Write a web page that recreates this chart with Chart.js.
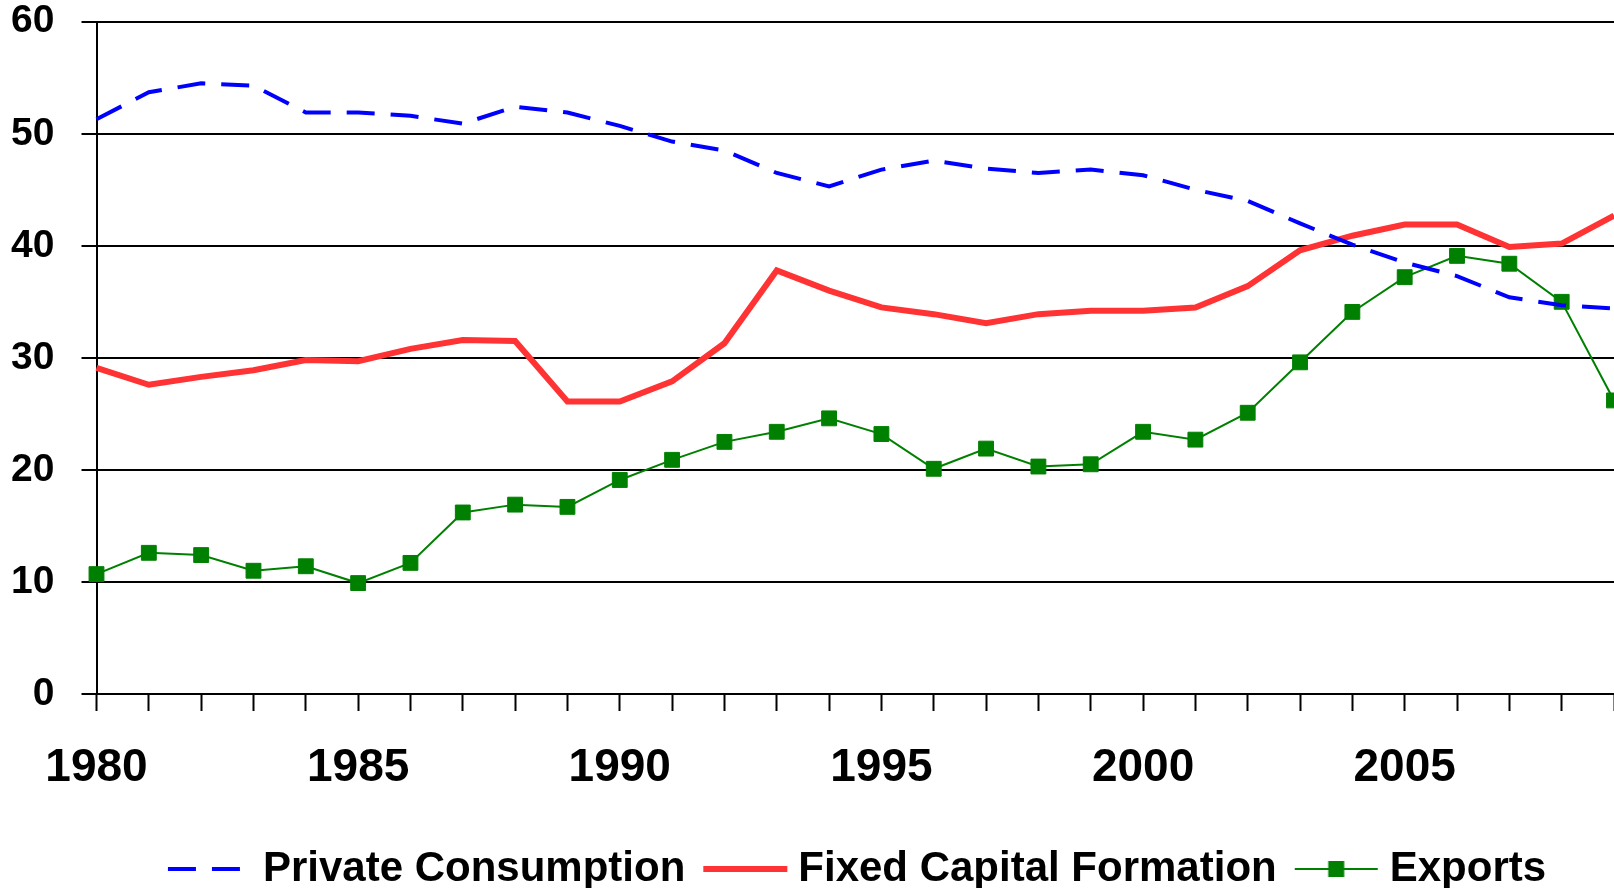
<!DOCTYPE html>
<html>
<head>
<meta charset="utf-8">
<script src="https://cdn.jsdelivr.net/npm/chart.js@4.4.1/dist/chart.umd.min.js"></script>
<style>
  body { margin: 0; background: #fff; }
  #wrap { width: 1614px; height: 888px; }
</style>
</head>
<body>
<div id="wrap"><canvas id="chart" width="1614" height="888"></canvas></div>
<script>
const years = ['1980','1981','1982','1983','1984','1985','1986','1987','1988','1989',
               '1990','1991','1992','1993','1994','1995','1996','1997','1998','1999',
               '2000','2001','2002','2003','2004','2005','2006','2007','2008','2009'];
const shownYears = ['1980','1985','1990','1995','2000','2005'];
const yTicks = [0, 10, 20, 30, 40, 50, 60];

const privateConsumption = [51.3, 53.7, 54.5, 54.3, 51.9, 51.9, 51.6, 50.9, 52.4, 51.9,
                            50.7, 49.3, 48.5, 46.5, 45.3, 46.8, 47.6, 46.9, 46.5, 46.8,
                            46.3, 45.0, 44.0, 42.0, 40.1, 38.5, 37.3, 35.4, 34.7, 34.4];
const fixedCapital = [29.1, 27.6, 28.3, 28.9, 29.8, 29.7, 30.8, 31.6, 31.5, 26.1,
                      26.1, 27.9, 31.3, 37.8, 36.0, 34.5, 33.9, 33.1, 33.9, 34.2,
                      34.2, 34.5, 36.4, 39.6, 40.9, 41.9, 41.9, 39.9, 40.2, 42.7];
const exportsShare = [10.7, 12.6, 12.4, 11.0, 11.4, 9.9, 11.7, 16.2, 16.9, 16.7,
                      19.1, 20.9, 22.5, 23.4, 24.6, 23.2, 20.1, 21.9, 20.3, 20.5,
                      23.4, 22.7, 25.1, 29.6, 34.1, 37.2, 39.1, 38.4, 35.0, 26.2];

const BLUE = '#0000FF', RED = '#FF3333', GREEN = '#008000';

// little legend samples (line + marker) drawn on small canvases
function sample(draw) {
    const c = document.createElement('canvas');
    c.width = 100; c.height = 20;
    draw(c.getContext('2d'));
    return c;
}
const legendImgs = [
    sample(g => { g.strokeStyle = BLUE; g.lineWidth = 4; g.setLineDash([28, 16]);
                  g.beginPath(); g.moveTo(13, 10); g.lineTo(97, 10); g.stroke(); }),
    sample(g => { g.strokeStyle = RED; g.lineWidth = 6;
                  g.beginPath(); g.moveTo(13, 10); g.lineTo(97, 10); g.stroke(); }),
    sample(g => { g.strokeStyle = GREEN; g.lineWidth = 2;
                  g.beginPath(); g.moveTo(13, 10); g.lineTo(96, 10); g.stroke();
                  g.fillStyle = GREEN; g.fillRect(46.5, 2, 16, 16); })
];

const legendShift = {
    id: 'legendShift',
    afterLayout(c) {
        c.legend.left += 50; c.legend.right += 50;
        c.legend.top += 12; c.legend.bottom += 12;
    }
};

Chart.defaults.color = '#000';
Chart.defaults.font.family = "'Liberation Sans', Arial, sans-serif";

let myChart = new Chart(document.querySelector('#chart').getContext('2d'), {
    type: 'line',
    plugins: [legendShift],
    data: {
        labels: years,
        datasets: [{
            label: 'Private Consumption',
            data: privateConsumption,
            borderColor: BLUE,
            borderWidth: 4,
            borderDash: [28, 16],
            pointRadius: 0,
            tension: 0
        },
        {
            label: 'Fixed Capital Formation',
            data: fixedCapital,
            borderColor: RED,
            borderWidth: 6,
            pointRadius: 0,
            tension: 0
        },
        {
            label: 'Exports',
            data: exportsShare,
            borderColor: GREEN,
            borderWidth: 2,
            pointStyle: 'rect',
            pointRadius: 10.5,
            pointHoverRadius: 10.5,
            pointBackgroundColor: GREEN,
            pointBorderColor: GREEN,
            pointBorderWidth: 1,
            tension: 0
        }]
    },
    options: {
        responsive: false,
        animation: false,
        layout: { padding: 0, autoPadding: false },
        plugins: {
            tooltip: { enabled: false },
            legend: {
                position: 'bottom',
                labels: {
                    usePointStyle: true,
                    pointStyleWidth: 74,
                    padding: 18,
                    color: '#000',
                    font: { size: 42, weight: 'bold' },
                    generateLabels(chart) {
                        const items = Chart.defaults.plugins.legend.labels.generateLabels(chart);
                        items.forEach((it, i) => { it.pointStyle = legendImgs[i]; });
                        return items;
                    }
                }
            }
        },
        scales: {
            x: {
                afterFit(s) { s.height = 124; s.paddingLeft = 0; s.paddingRight = 0; },
                grid: {
                    drawOnChartArea: false,
                    drawTicks: true,
                    tickLength: 17,
                    tickWidth: 2,
                    tickColor: '#000'
                },
                border: { color: '#000', width: 2 },
                ticks: {
                    autoSkip: false,
                    maxRotation: 0,
                    padding: 30,
                    font: { size: 46, weight: 'bold' },
                    callback(v) {
                        const y = this.getLabelForValue(v);
                        return shownYears.includes(y) ? y : '';
                    }
                }
            },
            y: {
                min: yTicks[0],
                max: yTicks[yTicks.length - 1],
                afterFit(s) { s.width = 96.5; s.paddingTop = 21.7; s.paddingBottom = 0; },
                grid: {
                    color: '#000',
                    lineWidth: 2,
                    tickLength: 15
                },
                border: { color: '#000', width: 2 },
                ticks: {
                    stepSize: 10,
                    padding: 27,
                    font: { size: 39, weight: 'bold' }
                }
            }
        }
    }
});
</script>
</body>
</html>
